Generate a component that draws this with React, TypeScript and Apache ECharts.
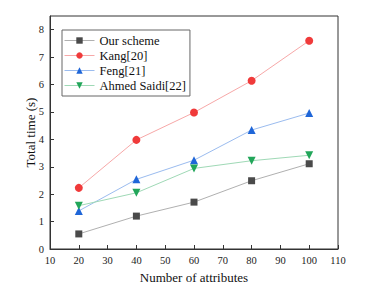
import React, { useEffect, useRef } from "react";
import * as echarts from "echarts";

const attributes = [20, 40, 60, 80, 100];
const ourScheme = [0.55, 1.2, 1.71, 2.49, 3.11];
const kang = [2.23, 3.98, 4.98, 6.14, 7.6];
const feng = [1.39, 2.54, 3.24, 4.34, 4.96];
const ahmed = [1.58, 2.05, 2.94, 3.22, 3.42];
const seriesNames = ["Our scheme", "Kang[20]", "Feng[21]", "Ahmed Saidi[22]"];

const FONT = "Liberation Serif";

export default function App() {
  const ref = useRef<HTMLDivElement>(null);
  useEffect(() => {
    if (!ref.current) return;
    const chart = echarts.init(ref.current, undefined, { renderer: "svg" });
    const mk = (name: string, data: number[], marker: string, line: string, symbol: string, size: number) => ({
      name,
      type: "line",
      data: attributes.map((x, i) => [x, data[i]]),
      symbol,
      symbolSize: size,
      itemStyle: { color: marker },
      lineStyle: { color: line, width: 1 },
      z: 3,
    });
    chart.setOption({
      animation: false,
      backgroundColor: "#fff",
      textStyle: { fontFamily: FONT },
      grid: { left: 50, right: 51, top: 16, bottom: 46, show: true, borderColor: "#333", borderWidth: 1 },
      legend: {
        orient: "vertical",
        left: 62,
        top: 30,
        data: seriesNames,
        itemWidth: 30,
        itemHeight: 8,
        itemGap: 2,
        padding: [4, 4, 4, 2],
        borderColor: "#666",
        borderWidth: 1,
        lineStyle: { width: 1 },
        textStyle: { fontFamily: FONT, fontSize: 12.5, color: "#111" },
      },
      xAxis: {
        type: "value",
        min: 10,
        max: 110,
        interval: 10,
        name: "Number of attributes",
        nameLocation: "middle",
        nameGap: 22,
        nameMoveOverlap: false,
        nameTextStyle: { fontFamily: FONT, fontSize: 13, color: "#111" },
        axisLine: { show: true, lineStyle: { color: "#333", width: 1 } },
        axisTick: { show: true, inside: true, length: 4, lineStyle: { color: "#333" } },
        axisLabel: { fontFamily: FONT, fontSize: 10.5, color: "#222", margin: 6 },
        splitLine: { show: false },
      },
      yAxis: {
        type: "value",
        min: 0,
        max: 8.5,
        interval: 1,
        name: "Total time (s)",
        nameLocation: "middle",
        nameGap: 13,
        nameMoveOverlap: false,
        nameTextStyle: { fontFamily: FONT, fontSize: 13, color: "#111" },
        axisLine: { show: true, lineStyle: { color: "#333", width: 1 } },
        axisTick: { show: true, inside: true, length: 4, lineStyle: { color: "#333" } },
        axisLabel: { fontFamily: FONT, fontSize: 10.5, color: "#222", margin: 6, showMaxLabel: false },
        splitLine: { show: false },
      },
      series: [
        mk(seriesNames[0], ourScheme, "#4a4a4a", "#b0b0b0", "rect", 7),
        mk(seriesNames[1], kang, "#f03a3a", "#f7a8a8", "circle", 8),
        mk(seriesNames[2], feng, "#1f66d8", "#9bbcef", "triangle", 8),
        mk(seriesNames[3], ahmed, "#22a65a", "#9fd9b6", "path://M0,0 L10,0 L5,9 Z", 8),
      ],
    });
    return () => chart.dispose();
  }, []);
  return <div ref={ref} style={{ position: "fixed", left: 0, top: 0, width: 389, height: 295 }} />;
}
